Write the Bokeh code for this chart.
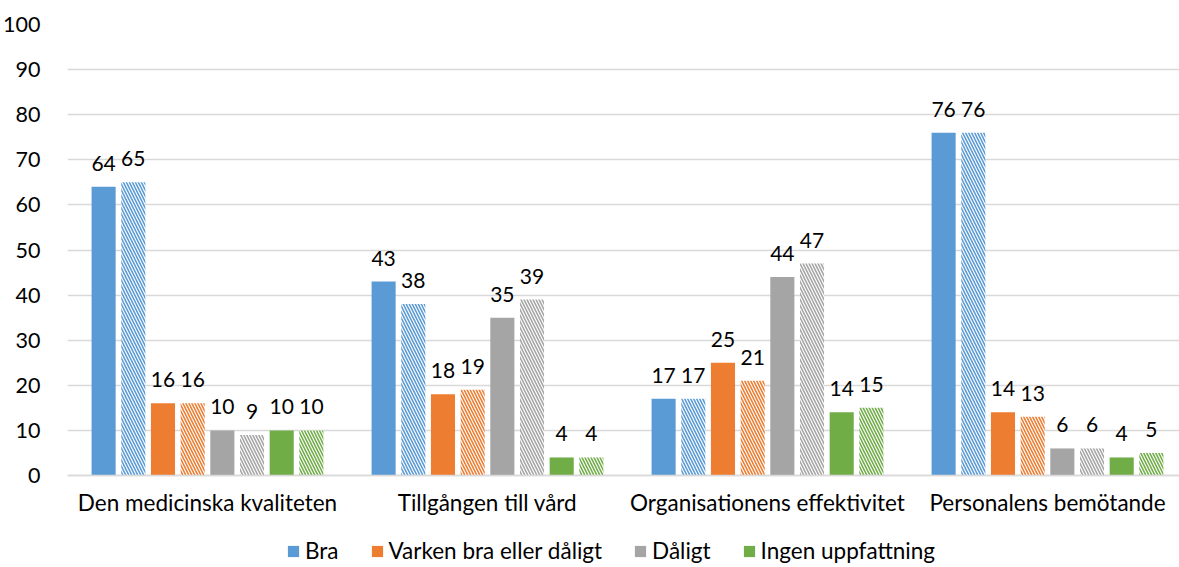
from bokeh.plotting import figure
from bokeh.models import ColumnDataSource, Range1d, Legend, LegendItem, FixedTicker
from bokeh.transform import dodge
from bokeh.core.properties import value
from bokeh.embed import file_html
from bokeh.resources import INLINE

categories = ["Den medicinska kvaliteten", "Tillgången till vård",
              "Organisationens effektivitet", "Personalens bemötande"]
series_names = ["Bra", "Varken bra eller dåligt", "Dåligt", "Ingen uppfattning"]
bra = [64, 43, 17, 76]
bra_h = [65, 38, 17, 76]
varken = [16, 18, 25, 14]
varken_h = [16, 19, 21, 13]
daligt = [10, 35, 44, 6]
daligt_h = [9, 39, 47, 6]
ingen = [10, 4, 14, 4]
ingen_h = [10, 4, 15, 5]
y_ticks = [0, 10, 20, 30, 40, 50, 60, 70, 80, 90, 100]

colors = ["#5B9BD5", "#ED7D31", "#A5A5A5", "#70AD47"]
FONT = "Lato"

centers = [i + 0.5 for i in range(len(categories))]
data = dict(x=centers)
pairs = [(bra, bra_h), (varken, varken_h), (daligt, daligt_h), (ingen, ingen_h)]
for i, (a, b) in enumerate(pairs):
    data[f"s{i}"] = a
    data[f"h{i}"] = b
    data[f"s{i}_t"] = [str(v) for v in a]
    data[f"h{i}_t"] = [str(v) for v in b]
src = ColumnDataSource(data)

FW = 1112
FH = 543          # frame from y=24 to y=567
PX_PER_UNIT = 4.51
p = figure(x_range=Range1d(0, FW / 280),
           y_range=Range1d(100 - FH / PX_PER_UNIT, 100),
           frame_width=FW, frame_height=FH,
           output_backend="svg", toolbar_location=None,
           min_border_left=67, min_border_right=0, min_border_top=24,
           min_border_bottom=0)
p.outline_line_color = None

pitch = 0.106
bw = 0.086
items = []
for i in range(4):
    off_s = (2 * i - 3.5) * pitch
    off_h = (2 * i + 1 - 3.5) * pitch
    r = p.vbar(x=dodge("x", off_s), top=f"s{i}", width=bw,
               source=src, fill_color=colors[i], line_color=None)
    p.vbar(x=dodge("x", off_h), top=f"h{i}", width=bw,
           source=src, fill_color="white", line_color=None,
           hatch_pattern="\\", hatch_color=colors[i], hatch_scale=6, hatch_weight=1.6)
    items.append(LegendItem(label=series_names[i], renderers=[r]))
    p.text(x=dodge("x", off_s), y=f"s{i}", text=f"s{i}_t", source=src,
           text_align="center", text_baseline="bottom", y_offset=-16,
           text_font=value(FONT), text_font_size="21px", text_color="#000000")
    p.text(x=dodge("x", off_h), y=f"h{i}", text=f"h{i}_t", source=src,
           text_align="center", text_baseline="bottom", y_offset=-16,
           text_font=value(FONT), text_font_size="21px", text_color="#000000")

p.xgrid.grid_line_color = None
p.ygrid.grid_line_color = "#D9D9D9"
p.ygrid.grid_line_width = 1.5
p.yaxis.ticker = FixedTicker(ticks=y_ticks)
p.yaxis.axis_line_color = None
p.yaxis.major_tick_line_color = None
p.yaxis.minor_tick_line_color = None
p.yaxis.major_label_standoff = 21
p.yaxis.major_label_text_font = FONT
p.yaxis.major_label_text_font_size = "21.5px"
p.yaxis.major_label_text_color = "#000000"

p.xaxis.fixed_location = 0
p.xaxis.ticker = FixedTicker(ticks=centers)
p.xaxis.major_label_overrides = {c: lab for c, lab in zip(centers, categories)}
p.xaxis.axis_line_color = "#D9D9D9"
p.xaxis.axis_line_width = 1.5
p.xaxis.major_tick_line_color = None
p.xaxis.minor_tick_line_color = None
p.xaxis.major_label_standoff = 7
p.xaxis.major_label_text_font = FONT
p.xaxis.major_label_text_font_size = "22.5px"
p.xaxis.major_label_text_color = "#000000"

legend = Legend(items=items, orientation="horizontal", location=(219, 3),
                border_line_color=None, background_fill_alpha=0,
                glyph_width=14, glyph_height=14, spacing=31, label_standoff=5,
                label_text_font=FONT, label_text_font_size="22.5px",
                label_text_color="#000000", padding=0, margin=0)
p.add_layout(legend)

open("out.html", "w").write(file_html(p, INLINE))
